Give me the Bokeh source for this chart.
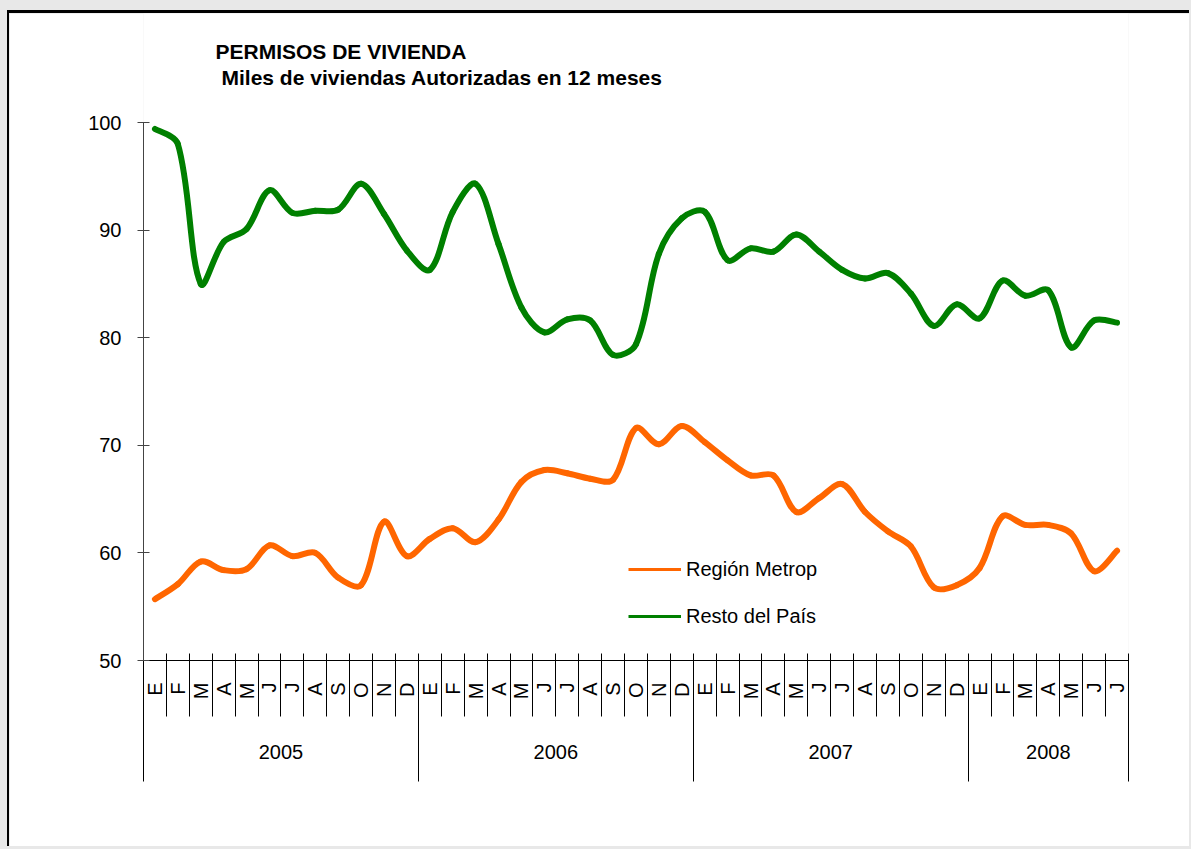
import math
from bokeh.plotting import figure
from bokeh.models import (Range1d, LinearAxis, FixedTicker, Legend, LegendItem,
                          Label, ColumnDataSource, GlobalInlineStyleSheet)
from bokeh.embed import file_html
from bokeh.resources import INLINE

# ---------------- data ----------------
month_labels = (["E", "F", "M", "A", "M", "J", "J", "A", "S", "O", "N", "D"] * 3
                + ["E", "F", "M", "A", "M", "J", "J"])
years = ["2005", "2006", "2007", "2008"]
months_per_year = [12, 12, 12, 7]

region_metrop = [55.7, 57.1, 59.2, 58.4, 58.5, 60.7, 59.7, 60.0, 57.7, 57.0,
                 62.9, 59.7, 61.3, 62.3, 61.0, 63.1, 66.6, 67.7, 67.4, 66.9,
                 66.8, 71.6, 70.1, 71.8, 70.3, 68.6, 67.2, 67.2, 63.8, 65.1,
                 66.4, 63.8, 62.0, 60.6, 56.8, 57.0, 58.6, 63.4, 62.6, 62.6,
                 61.8, 58.3, 60.2]
resto_pais = [99.4, 98.0, 85.0, 88.9, 90.1, 93.7, 91.6, 91.8, 91.9, 94.3,
              91.5, 88.1, 86.3, 91.7, 94.3, 88.7, 82.8, 80.5, 81.7, 81.6,
              78.4, 79.4, 87.8, 91.1, 91.7, 87.2, 88.3, 88.0, 89.6, 88.0,
              86.3, 85.5, 86.0, 84.1, 81.1, 83.1, 81.8, 85.3, 83.9, 84.4,
              79.1, 81.6, 81.4]

y_ticks = [50, 60, 70, 80, 90, 100]
title_1 = "PERMISOS DE VIVIENDA"
title_2 = "Miles de viviendas Autorizadas en 12 meses"
series_names = ["Región Metrop", "Resto del País"]

ORANGE = "#FF6600"
GREEN = "#008000"
FONT = "Liberation Sans"

n = len(month_labels)
CANVAS_W, CANVAS_H = 1182, 836
LEFT, RIGHT, BOTTOM = 134, 63, 189
PLOT_PX = 538                      # pixels between 50 and 100
TOP_GAP = 109                      # pixels above the 100 line (title area)
y_lo, y_hi = y_ticks[0], y_ticks[-1]
y_top = y_hi + TOP_GAP * (y_hi - y_lo) / PLOT_PX
PX_X = (CANVAS_W - LEFT - RIGHT) / n          # pixels per month
PX_Y = PLOT_PX / (y_hi - y_lo)                # pixels per unit


def smooth_segments(vals):
    """Bezier segments of a smoothed line (chord-length weighted tangents,
    as in spreadsheet 'smoothed line' charts), built from the data points."""
    m = len(vals)
    xs = list(range(m))

    def dist(a, b):
        return math.hypot((xs[b] - xs[a]) * PX_X, (vals[b] - vals[a]) * PX_Y)

    d = dict(x0=[], y0=[], x1=[], y1=[], cx0=[], cy0=[], cx1=[], cy1=[])
    for i in range(m - 1):
        a = i - 1 if i > 0 else i
        b = i + 2 if i + 2 < m else i + 1
        d_cur = dist(i, i + 1)
        d_prev = dist(a, i) if a != i else d_cur
        d_next = dist(i + 1, b) if b != i + 1 else d_cur
        k0 = d_cur / (d_prev + d_cur) / 3.0 if (d_prev + d_cur) else 0
        k1 = d_cur / (d_cur + d_next) / 3.0 if (d_cur + d_next) else 0
        t0x, t0y = xs[i + 1] - xs[a], vals[i + 1] - vals[a]
        t1x, t1y = xs[b] - xs[i], vals[b] - vals[i]
        d["x0"].append(xs[i]); d["y0"].append(vals[i])
        d["x1"].append(xs[i + 1]); d["y1"].append(vals[i + 1])
        d["cx0"].append(xs[i] + k0 * t0x)
        d["cy0"].append(vals[i] + k0 * t0y)
        d["cx1"].append(xs[i + 1] - k1 * t1x)
        d["cy1"].append(vals[i + 1] - k1 * t1y)
    return ColumnDataSource(d)


p = figure(width=CANVAS_W, height=CANVAS_H,
           x_range=Range1d(-0.5, n - 0.5), y_range=Range1d(y_lo, y_top),
           x_axis_type=None, y_axis_type=None,
           output_backend="svg", toolbar_location=None,
           min_border_left=LEFT, min_border_right=RIGHT,
           min_border_top=0, min_border_bottom=BOTTOM)
p.outline_line_color = None
p.background_fill_color = "white"
p.border_fill_color = "white"
p.grid.visible = False
p.title.visible = False
p.stylesheets = [GlobalInlineStyleSheet(
    css="html, body { background: #e8e8e8; margin: 0; padding: 0; overflow: hidden; }")]
p.styles = {"margin-left": "7px", "margin-top": "10px",
            "border-top": "3px solid black", "border-left": "2px solid black"}

# ---------------- axes ----------------
yaxis = LinearAxis(ticker=FixedTicker(ticks=y_ticks), bounds=(y_lo, y_hi))
yaxis.axis_line_color = "#444444"
yaxis.major_tick_line_color = "#444444"
yaxis.major_tick_in = 6
yaxis.major_tick_out = 6
yaxis.minor_tick_line_color = None
yaxis.major_label_standoff = 16
yaxis.major_label_text_font = FONT
yaxis.major_label_text_font_size = "20px"
yaxis.major_label_text_color = "black"
p.add_layout(yaxis, "left")

centers = list(range(n))
bounds = [i - 0.5 for i in range(n + 1)]
xaxis = LinearAxis(ticker=FixedTicker(ticks=centers, minor_ticks=bounds))
xaxis.major_label_overrides = {i: month_labels[i] for i in centers}
xaxis.major_label_orientation = math.pi / 2
xaxis.axis_line_color = "black"
xaxis.major_tick_line_color = None
xaxis.major_tick_in = 0
xaxis.major_tick_out = 0
xaxis.minor_tick_line_color = "black"
xaxis.minor_tick_in = 7
xaxis.minor_tick_out = 56
xaxis.major_label_standoff = -34
xaxis.major_label_text_font = FONT
xaxis.major_label_text_font_size = "20px"
xaxis.major_label_text_color = "black"
p.add_layout(xaxis, "below")

year_bounds = [-0.5]
for m in months_per_year:
    year_bounds.append(year_bounds[-1] + m)
year_centers = [(year_bounds[k] + year_bounds[k + 1]) / 2 for k in range(len(years))]
yearaxis = LinearAxis(ticker=FixedTicker(ticks=year_centers, minor_ticks=year_bounds))
yearaxis.major_label_overrides = {c: y for c, y in zip(year_centers, years)}
yearaxis.axis_line_color = None
yearaxis.major_tick_line_color = None
yearaxis.major_tick_in = 0
yearaxis.major_tick_out = 0
yearaxis.minor_tick_line_color = "black"
yearaxis.minor_tick_in = 46
yearaxis.minor_tick_out = 79
yearaxis.major_label_standoff = -37
yearaxis.major_label_text_font = FONT
yearaxis.major_label_text_font_size = "20px"
yearaxis.major_label_text_color = "black"
p.add_layout(yearaxis, "below")

# ---------------- series ----------------
p.bezier(x0="x0", y0="y0", x1="x1", y1="y1", cx0="cx0", cy0="cy0",
         cx1="cx1", cy1="cy1", source=smooth_segments(resto_pais),
         line_color=GREEN, line_width=6, line_cap="round")
p.bezier(x0="x0", y0="y0", x1="x1", y1="y1", cx0="cx0", cy0="cy0",
         cx1="cx1", cy1="cy1", source=smooth_segments(region_metrop),
         line_color=ORANGE, line_width=6, line_cap="round")

# legend samples (thinner lines, as in the original); a one-point line draws nothing
leg_o = p.line(x=[0], y=[region_metrop[0]], line_color=ORANGE, line_width=3)
leg_g = p.line(x=[0], y=[resto_pais[0]], line_color=GREEN, line_width=3)
legend = Legend(items=[LegendItem(label=series_names[0], renderers=[leg_o]),
                       LegendItem(label=series_names[1], renderers=[leg_g])],
                location=(485, 32))
legend.label_text_font = FONT
legend.label_text_font_size = "20px"
legend.label_text_color = "black"
legend.glyph_width = 53
legend.glyph_height = 24
legend.label_height = 24
legend.label_standoff = 5
legend.spacing = 23
legend.padding = 0
legend.margin = 0
legend.border_line_color = None
legend.background_fill_alpha = 0
p.add_layout(legend, "center")

# ---------------- titles (inside the frame's top band) ----------------
p.add_layout(Label(x=72, y=609, x_units="screen", y_units="screen", text=title_1,
                   text_font=FONT, text_font_size="21px", text_font_style="bold",
                   text_baseline="alphabetic", text_color="black"))
p.add_layout(Label(x=78, y=583, x_units="screen", y_units="screen", text=title_2,
                   text_font=FONT, text_font_size="21px", text_font_style="bold",
                   text_baseline="alphabetic", text_color="black"))

open("out.html", "w").write(file_html(p, INLINE))
